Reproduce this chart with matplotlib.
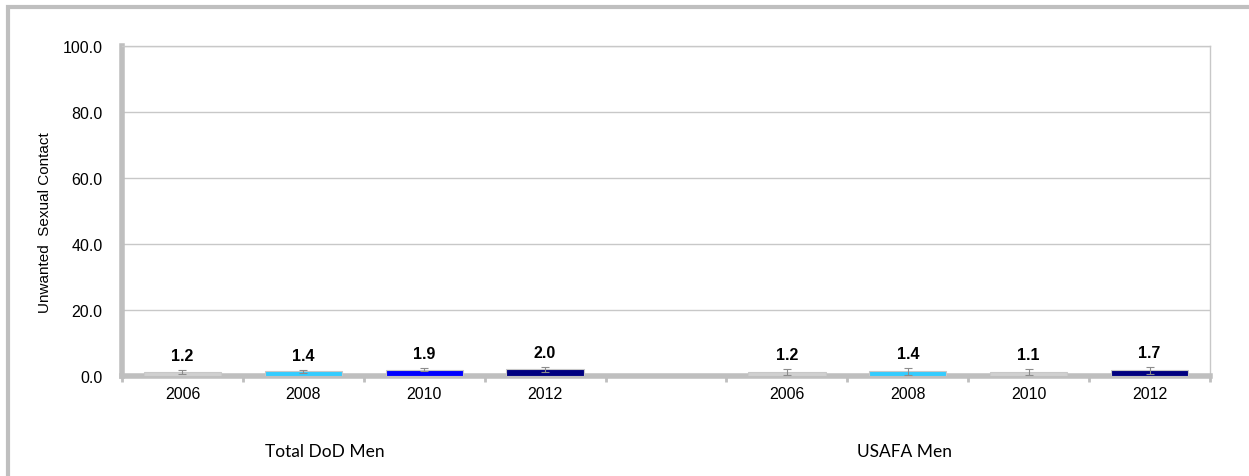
import matplotlib.pyplot as plt
from matplotlib.patches import Rectangle
import numpy as np

groups = ["Total DoD Men", "USAFA Men"]
years = ["2006", "2008", "2010", "2012"]
dod_values = [1.2, 1.4, 1.9, 2.0]
dod_errors = [0.5, 0.5, 0.5, 0.8]
usafa_values = [1.2, 1.4, 1.1, 1.7]
usafa_errors = [0.8, 1.0, 0.9, 1.1]
dod_colors = ["#D0D0D0", "#33CCFF", "#0000FF", "#000080"]
usafa_colors = ["#D0D0D0", "#33CCFF", "#D0D0D0", "#000080"]

plt.rcParams['font.family'] = ['Liberation Sans', 'DejaVu Sans']

fig = plt.figure(figsize=(12.49, 4.77), dpi=100)
ax = fig.add_axes([122 / 1249, 100 / 477, 1088 / 1249, 330 / 477])

# outer chart frame (left and top edges visible)
fig.patches.append(Rectangle((8 / 1249, -0.1), 1.2, 1.1 - 8 / 477,
	transform=fig.transFigure, fill=False, edgecolor="#BFBFBF", linewidth=3))

# slots 0-3 DoD, 4 empty, 5-8 USAFA
x_dod = np.arange(4)
x_usafa = np.arange(5, 9)
values = dod_values + usafa_values
errors = dod_errors + usafa_errors
colors = dod_colors + usafa_colors
xs = list(x_dod) + list(x_usafa)

ax.bar(xs, values, width=0.64, color=colors, edgecolor="#C8C8C8", linewidth=0.8, zorder=3)
ax.errorbar(xs, values, yerr=errors, fmt="none", ecolor="#8C8C8C", elinewidth=0.8,
	capsize=3, capthick=0.8, zorder=4)
for x, v, e in zip(xs, values, errors):
	ax.annotate("{:.1f}".format(v), (x, v + e), xytext=(0, 5), textcoords="offset points",
		ha="center", va="bottom", fontsize=11.5, fontweight="bold")

ax.set_xlim(-0.5, 8.5)
ax.set_ylim(0, 100)
ax.set_yticks(np.arange(0, 101, 20))
ax.set_yticklabels(["{:.1f}".format(t) for t in np.arange(0, 101, 20)], fontsize=11.5)
ax.yaxis.grid(True, color="#C8C8C8", linewidth=1)
ax.set_axisbelow(True)
ax.tick_params(axis="y", length=0, pad=14)

# category tick marks at slot boundaries, labels at centres
ax.set_xticks(np.arange(-0.5, 9, 1))
ax.set_xticklabels([])
ax.tick_params(axis="x", which="major", length=4, width=2, color="#BFBFBF")
ax.set_xticks(xs, minor=True)
ax.set_xticklabels(years + years, minor=True, fontsize=11.5)
ax.tick_params(axis="x", which="minor", length=0, pad=7)

ax.spines["left"].set_color("#BFBFBF")
ax.spines["left"].set_linewidth(4)
ax.spines["bottom"].set_color("#BFBFBF")
ax.spines["bottom"].set_linewidth(4)
ax.spines["top"].set_color("#C8C8C8")
ax.spines["top"].set_linewidth(1)
ax.spines["right"].set_color("#C8C8C8")
ax.spines["right"].set_linewidth(1)

ax.set_ylabel("Unwanted  Sexual Contact", fontsize=11, va="center")
ax.yaxis.set_label_coords(-0.071, 0.467)

for name, centre in zip(groups, [1.18, 5.97]):
	ax.text(centre, -0.227, name, transform=ax.get_xaxis_transform(), ha="center", va="center",
		fontsize=12.5, family=["Lato", "DejaVu Sans"])

fig.savefig("out.png", dpi=100)
